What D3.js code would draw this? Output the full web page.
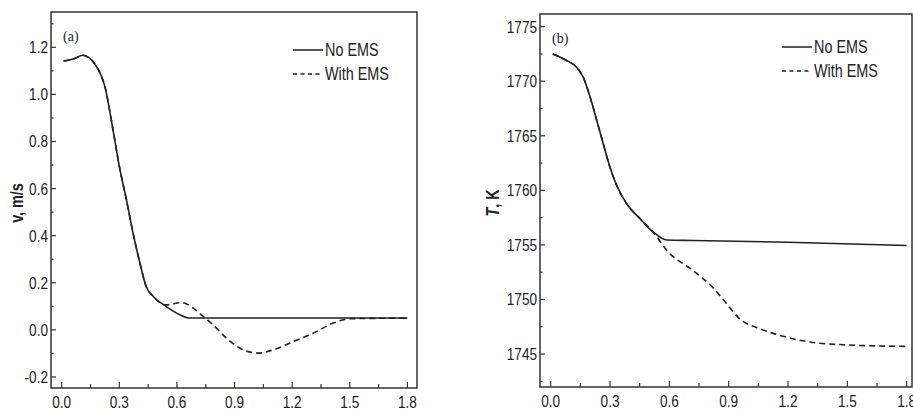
<!DOCTYPE html>
<html>
<head>
<meta charset="UTF-8">
<title>v and T with / without EMS</title>
<script src="https://cdn.jsdelivr.net/npm/d3@7"></script>
<style>
body { margin:0; background:white; }
text { font-family: "Liberation Sans", Arial, sans-serif; fill:#222; }
</style>
</head>
<body>
<script>
// panel (a): velocity, m/s
var vTime   = [0.01, 0.06, 0.11, 0.18, 0.226, 0.27, 0.30, 0.337, 0.372, 0.407, 0.44, 0.477, 0.545, 0.616, 0.66, 1.0, 1.5, 1.8]
var vNoEms  = [1.142, 1.15, 1.166, 1.12, 1.03, 0.837, 0.695, 0.553, 0.41, 0.285, 0.184, 0.142, 0.099, 0.064, 0.05, 0.05, 0.05, 0.05]
var vTimeE  = [0.01, 0.06, 0.11, 0.18, 0.226, 0.27, 0.30, 0.337, 0.372, 0.407, 0.44, 0.477, 0.545, 0.625, 0.685, 0.737, 0.79, 0.858, 0.928, 1.024, 1.10, 1.206, 1.31, 1.415, 1.50, 1.8]
var vWithEms= [1.142, 1.15, 1.166, 1.12, 1.03, 0.837, 0.695, 0.553, 0.41, 0.285, 0.184, 0.142, 0.106, 0.116, 0.092, 0.057, 0.02, -0.035, -0.078, -0.099, -0.085, -0.05, -0.014, 0.029, 0.047, 0.05]

// panel (b): temperature, K
var tTime   = [0.01, 0.08, 0.13, 0.165, 0.2, 0.233, 0.266, 0.30, 0.335, 0.385, 0.452, 0.52, 0.587, 0.72, 1.2, 1.8]
var tNoEms  = [1772.5, 1771.9, 1771.3, 1770.35, 1768.5, 1766.4, 1764.25, 1762.1, 1760.4, 1758.75, 1757.4, 1756.15, 1755.45, 1755.4, 1755.25, 1754.95]
var tTimeE  = [0.01, 0.08, 0.13, 0.165, 0.2, 0.233, 0.266, 0.30, 0.335, 0.385, 0.452, 0.52, 0.587, 0.72, 0.82, 0.89, 0.957, 1.06, 1.16, 1.31, 1.48, 1.8]
var tWithEms= [1772.5, 1771.9, 1771.3, 1770.35, 1768.5, 1766.4, 1764.25, 1762.1, 1760.4, 1758.75, 1757.4, 1756.15, 1754.5, 1752.65, 1751.1, 1749.6, 1748.2, 1747.3, 1746.7, 1746.1, 1745.85, 1745.7]

var xTicks  = [0.0, 0.3, 0.6, 0.9, 1.2, 1.5, 1.8]
var vTicks  = [-0.2, 0.0, 0.2, 0.4, 0.6, 0.8, 1.0, 1.2]
var tTicks  = [1745, 1750, 1755, 1760, 1765, 1770, 1775]
var seriesNames = ["No EMS", "With EMS"]

var svg = d3.select("body").append("svg")
  .attr("width", 913).attr("height", 412)
  .style("background", "white")

// narrow text: no condensed face installed, so squeeze horizontally
var NARROW = 0.8
function narrow(sel, x, y) {
  return sel.attr("transform", (d, i) => "translate(" + x(d, i) + "," + y(d, i) + ") scale(" + NARROW + ",1)")
}

function panel(o) {
  var x = d3.scaleLinear().domain(o.xDom).range([o.left, o.right])
  var y = d3.scaleLinear().domain(o.yDom).range([o.bottom, o.top])
  var g = svg.append("g")

  // frame
  g.append("rect")
    .attr("x", o.left).attr("y", o.top)
    .attr("width", o.right - o.left).attr("height", o.bottom - o.top)
    .attr("fill", "none").attr("stroke", "#333").attr("stroke-width", 1.5)

  // x axis ticks pointing in
  var xMinor = d3.range(0, 1.81, 0.15)
  g.selectAll(".xm").data(xMinor).enter().append("line")
    .attr("x1", d => x(d)).attr("x2", d => x(d))
    .attr("y1", o.bottom).attr("y2", d => o.bottom - (xTicks.some(t => Math.abs(t - d) < 1e-6) ? 6 : 4))
    .attr("stroke", "#333").attr("stroke-width", 1.2)
  narrow(g.selectAll(".xl").data(xTicks).enter().append("text"), d => x(d), () => o.bottom + 20)
    .attr("text-anchor", "middle").attr("font-size", 17)
    .text(d => d.toFixed(1))

  // y axis
  var step = o.yTicks[1] - o.yTicks[0]
  var yMinor = o.yTicks.map(d => d + step / 2).filter(d => d < o.yDom[1])
  yMinor.push(o.yTicks[0] - step / 2)
  g.selectAll(".yt").data(o.yTicks).enter().append("line")
    .attr("x1", o.left).attr("x2", o.left + 5)
    .attr("y1", d => y(d)).attr("y2", d => y(d))
    .attr("stroke", "#333").attr("stroke-width", 1.2)
  g.selectAll(".ym").data(yMinor.filter(d => d > o.yDom[0])).enter().append("line")
    .attr("x1", o.left).attr("x2", o.left + 2.5)
    .attr("y1", d => y(d)).attr("y2", d => y(d))
    .attr("stroke", "#333").attr("stroke-width", 1.2)
  narrow(g.selectAll(".yl").data(o.yTicks).enter().append("text"), () => o.left - 3, d => y(d) + 6)
    .attr("text-anchor", "end").attr("font-size", 17)
    .text(o.fmt)

  // axis title
  var yt = g.append("text")
    .attr("transform", "translate(" + o.titleX + ",203) rotate(-90) scale(" + NARROW + ",1)")
    .attr("text-anchor", "middle").attr("font-size", 18).attr("font-weight", "bold")
  o.title(yt)

  // panel letter
  g.append("text").attr("x", o.left + 12).attr("y", o.top + 29)
    .style("font-family", "'Liberation Serif', 'DejaVu Serif', serif")
    .attr("font-size", 14).text(o.letter)

  var line = d3.line().x(d => x(d[0])).y(d => y(d[1])).curve(d3.curveMonotoneX)
  g.append("path").datum(d3.zip(o.tE, o.withE))
    .attr("d", line).attr("fill", "none").attr("stroke", "#222")
    .attr("stroke-width", 1.6).attr("stroke-dasharray", "6,4")
  g.append("path").datum(d3.zip(o.t0, o.noE))
    .attr("d", line).attr("fill", "none").attr("stroke", "#222").attr("stroke-width", 1.6)

  // legend
  var lg = g.append("g").attr("transform", "translate(" + o.legX + "," + o.legY + ")")
  lg.selectAll("line").data(seriesNames).enter().append("line")
    .attr("x1", 0).attr("x2", 30)
    .attr("y1", (d, i) => i * 24).attr("y2", (d, i) => i * 24)
    .attr("stroke", "#222").attr("stroke-width", 1.5)
    .attr("stroke-dasharray", (d, i) => i ? "4,3.5" : null)
  narrow(lg.selectAll("text").data(seriesNames).enter().append("text"), () => 32, (d, i) => i * 24 + 6)
    .attr("font-size", 18).text(d => d)
}

panel({
  left: 51, right: 417, top: 12, bottom: 388,
  xDom: [-0.0555, 1.85], yDom: [-0.247, 1.35],
  yTicks: vTicks, fmt: d => d.toFixed(1),
  t0: vTime, noE: vNoEms, tE: vTimeE, withE: vWithEms,
  letter: "(a)", titleX: 23, legX: 293, legY: 50,
  title: t => t.text("v, m/s")
})

panel({
  left: 540, right: 912, top: 14, bottom: 387,
  xDom: [-0.0541, 1.827], yDom: [1741.98, 1776.16],
  yTicks: tTicks, fmt: d => d,
  t0: tTime, noE: tNoEms, tE: tTimeE, withE: tWithEms,
  letter: "(b)", titleX: 499, legX: 782, legY: 47,
  title: t => { t.append("tspan").attr("font-style", "italic").text("T"); t.append("tspan").text(", K") }
})
</script>
</body>
</html>
